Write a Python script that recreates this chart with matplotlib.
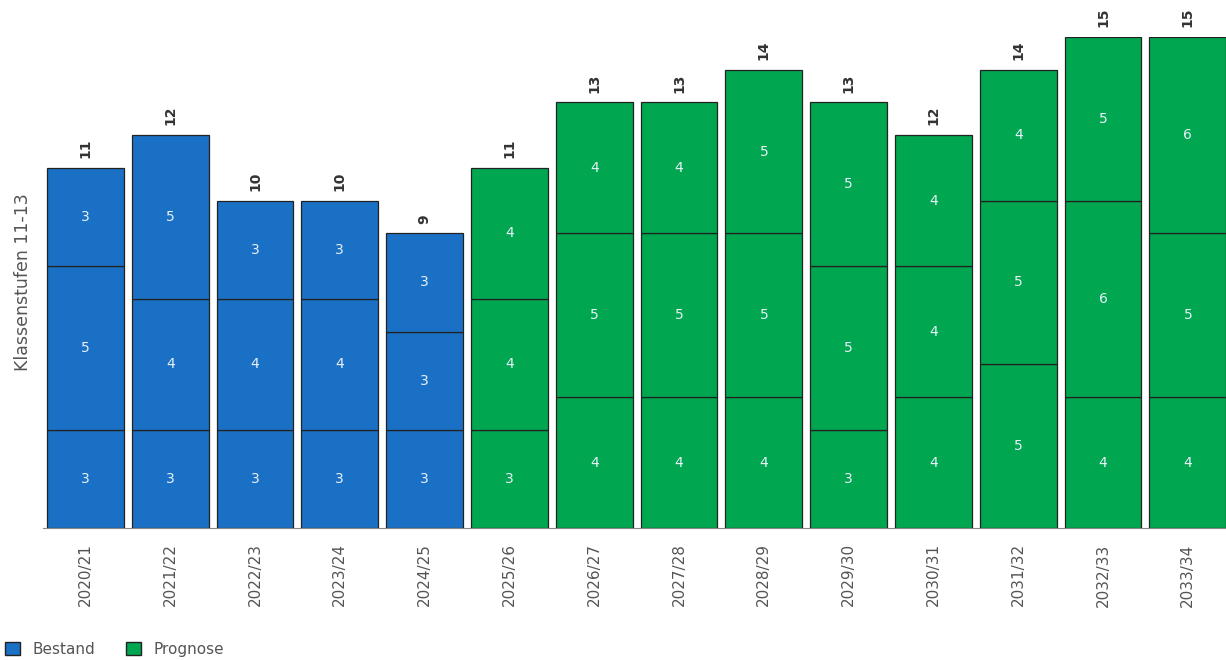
import numpy as np
import matplotlib.pyplot as plt
from matplotlib.patches import Patch

plt.rcParams['font.family'] = ['DejaVu Sans']

years = ["2020/21", "2021/22", "2022/23", "2023/24", "2024/25", "2025/26", "2026/27",
         "2027/28", "2028/29", "2029/30", "2030/31", "2031/32", "2032/33", "2033/34"]
stufe11 = [3, 3, 3, 3, 3, 3, 4, 4, 4, 3, 4, 5, 4, 4]
stufe12 = [5, 4, 4, 4, 3, 4, 5, 5, 5, 5, 4, 5, 6, 5]
stufe13 = [3, 5, 3, 3, 3, 4, 4, 4, 5, 5, 4, 4, 5, 6]
is_prognose = [False] * 5 + [True] * 9

blue = '#1a70c4'
green = '#00a650'
colors = [green if p else blue for p in is_prognose]

fig = plt.figure(figsize=(12.26, 6.6), dpi=100)
ax = fig.add_axes([43 / 1226, 0.2, 1 - 43 / 1226, 491 / 660])

x = np.arange(len(years))
bottom = np.zeros(len(years))
for vals in [stufe11, stufe12, stufe13]:
    vals = np.array(vals)
    ax.bar(x, vals, 0.905, bottom=bottom, color=colors, edgecolor='#222222', linewidth=0.9)
    for xi, b, v in zip(x, bottom, vals):
        ax.text(xi, b + v / 2, str(v), ha='center', va='center', color='#e8f0f8', fontsize=10)
    bottom += vals

for xi, tot in zip(x, bottom):
    ax.text(xi, tot + 0.3, str(int(tot)), ha='center', va='bottom', rotation=90,
            color='#333333', fontsize=10, fontweight='bold', clip_on=False)

ax.set_xlim(-0.5, 13.45)
ax.set_ylim(0, 15)
ax.set_xticks(x)
ax.set_xticklabels(years, rotation=90, color='#555555', fontsize=11)
ax.tick_params(axis='x', length=0, pad=11)
ax.set_yticks([])
for s in ['top', 'right', 'left']:
    ax.spines[s].set_visible(False)
ax.spines['bottom'].set_color('#888888')
ax.set_ylabel("Klassenstufen 11-13", color='#555555', fontsize=12.5, labelpad=8)

handles = [Patch(facecolor=blue, edgecolor='#222222', label='Bestand'),
           Patch(facecolor=green, edgecolor='#222222', label='Prognose')]
fig.legend(handles=handles, loc='lower left', bbox_to_anchor=(-0.007, -0.016), ncol=2,
           frameon=False, handlelength=1.0, handleheight=1.0, columnspacing=2.0,
           handletextpad=0.8, fontsize=11, labelcolor='#555555')

fig.savefig('out.png', dpi=100)
